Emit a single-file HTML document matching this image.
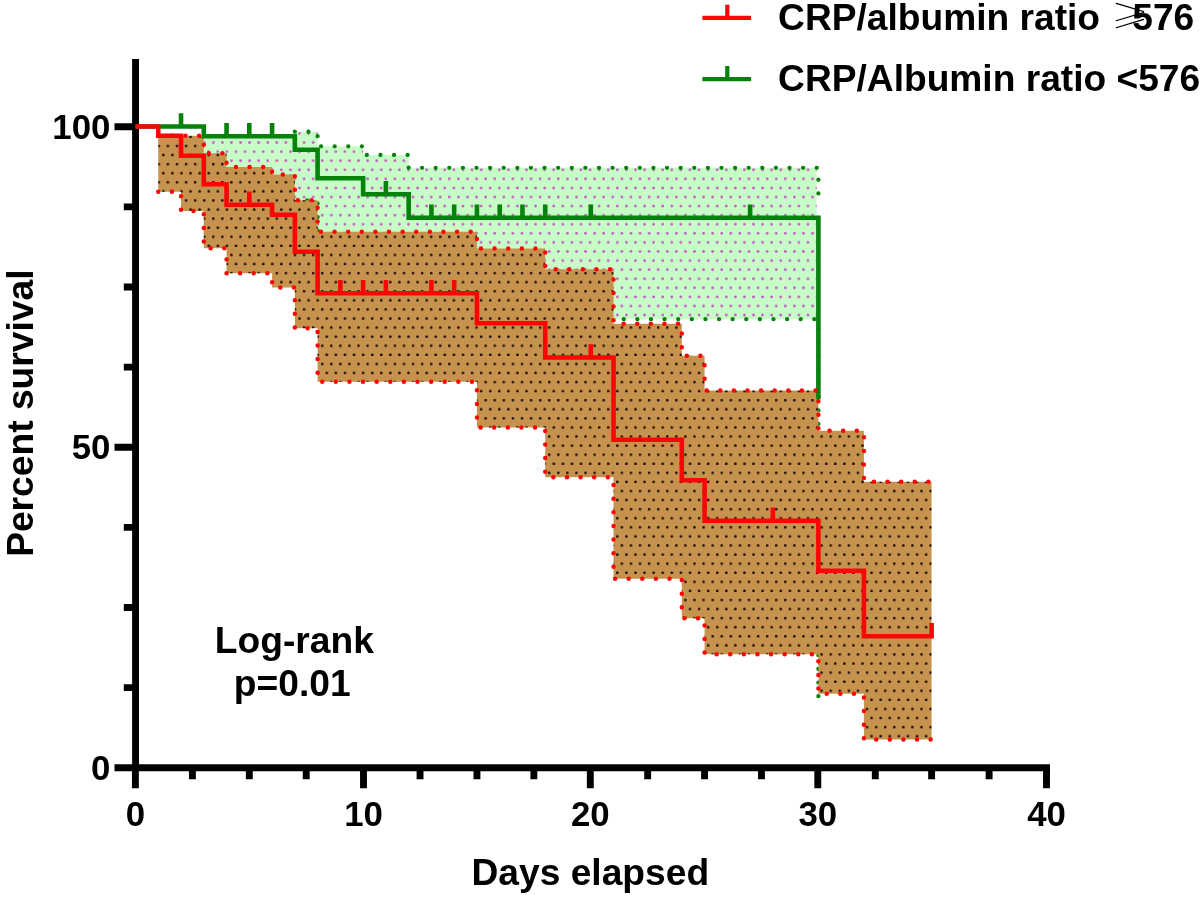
<!DOCTYPE html>
<html lang="en"><head><meta charset="utf-8"><title>Survival curve</title>
<style>
html,body{margin:0;padding:0;background:#fff;}
body{width:1200px;height:898px;overflow:hidden;}
svg{display:block;}
text{font-family:"Liberation Sans",Arial,Helvetica,sans-serif;font-weight:bold;fill:#000;}
.tick{font-size:34.8px;}
.title{font-size:37.2px;}
.leg{font-size:37.15px;}
.ge{font-family:"DejaVu Sans","Liberation Sans",sans-serif;font-weight:normal;font-size:41.3px;stroke:#fff;stroke-width:2.1px;}
</style></head><body>
<svg width="1200" height="898" viewBox="0 0 1200 898">
<defs>
<pattern id="pm" patternUnits="userSpaceOnUse" x="284.50" y="159.30" width="9.08" height="18.16"><circle cx="1.4" cy="1.4" r="1.4" fill="#c957c7"/><circle cx="5.9399999999999995" cy="10.48" r="1.4" fill="#c957c7"/></pattern>
<pattern id="pb" patternUnits="userSpaceOnUse" x="284.70" y="235.55" width="9.08" height="18.16"><rect x="0" y="0" width="2.4" height="2.5" rx="0.7" fill="#1c0a02"/><rect x="4.54" y="9.08" width="2.4" height="2.5" rx="0.7" fill="#1c0a02"/></pattern>
</defs>
<rect width="1200" height="898" fill="#fff"/>
<g stroke="#000" stroke-width="6.9" fill="none">
<path d="M135.55,59V771.20"/>
<path d="M114.5,767.75H1049.95"/>
<path d="M114.5,126.75H135.4 M114.5,447.25H135.4 M123.8,206.88H135.4 M123.8,287.00H135.4 M123.8,367.12H135.4 M123.8,527.38H135.4 M123.8,607.50H135.4 M123.8,687.62H135.4 M135.4,767.75V788.3 M363.5,767.75V788.3 M590.3,767.75V788.3 M817.8,767.75V788.3 M1046.5,767.75V788.3 M192.41,767.75V779.3 M249.31,767.75V779.3 M306.22,767.75V779.3 M420.04,767.75V779.3 M476.95,767.75V779.3 M533.85,767.75V779.3 M647.67,767.75V779.3 M704.58,767.75V779.3 M761.48,767.75V779.3 M875.30,767.75V779.3 M931.60,767.75V779.3 M989.11,767.75V779.3"/>
</g>
<path d="M203.79,136.30 L294.84,136.30 L294.84,131.70 L317.60,131.70 L317.60,146.30 L363.13,146.30 L363.13,155.00 L408.66,155.00 L408.66,167.80 L816.59,167.80 L816.59,319.20 L611.52,319.20 L611.52,300.00 L296.84,300.00 L296.84,240.00 L203.79,240.00Z" fill="#c7fec7"/>
<path d="M203.79,136.30 L294.84,136.30 L294.84,131.70 L317.60,131.70 L317.60,146.30 L363.13,146.30 L363.13,155.00 L408.66,155.00 L408.66,167.80 L816.59,167.80 L816.59,319.20 L611.52,319.20 L611.52,300.00 L296.84,300.00 L296.84,240.00 L203.79,240.00Z" fill="url(#pm)"/>
<path d="M294.84,200.30 L317.60,200.30 L317.60,240.00 L363.13,240.00 L363.13,262.00 L408.66,262.00 L408.66,319.20 L818.39,319.20 L818.39,697.00" stroke="#04820a" stroke-width="4.3" stroke-dasharray="0 13.61" stroke-dashoffset="1.3" stroke-linecap="round" stroke-linejoin="round" fill="none"/>
<path d="M294.84,131.70 L317.60,131.70 L317.60,146.30 L363.13,146.30 L363.13,155.00 L408.66,155.00 L408.66,167.80 L818.39,167.80 L818.39,200.00" stroke="#04820a" stroke-width="4.3" stroke-dasharray="0 13.61" stroke-linecap="round" stroke-linejoin="round" fill="none"/>
<path d="M158.26,135.80 L203.79,135.80 L203.79,153.30 L226.55,153.30 L226.55,167.00 L272.08,167.00 L272.08,174.50 L294.84,174.50 L294.84,200.30 L317.60,200.30 L317.60,231.70 L476.95,231.70 L476.95,248.60 L545.23,248.60 L545.23,269.20 L613.52,269.20 L613.52,323.70 L681.81,323.70 L681.81,355.80 L704.58,355.80 L704.58,390.40 L818.39,390.40 L818.39,430.80 L863.92,430.80 L863.92,481.70 L931.60,481.70 L931.60,739.60 L863.92,739.60 L863.92,693.80 L818.39,693.80 L818.39,654.20 L704.58,654.20 L704.58,618.30 L681.81,618.30 L681.81,578.80 L613.52,578.80 L613.52,477.20 L545.23,477.20 L545.23,427.50 L476.95,427.50 L476.95,381.70 L317.60,381.70 L317.60,328.30 L294.84,328.30 L294.84,287.50 L272.08,287.50 L272.08,273.30 L226.55,273.30 L226.55,248.30 L203.79,248.30 L203.79,211.00 L181.03,211.00 L181.03,191.80 L158.26,191.80Z" fill="#c6934f"/>
<path d="M158.26,135.80 L203.79,135.80 L203.79,153.30 L226.55,153.30 L226.55,167.00 L272.08,167.00 L272.08,174.50 L294.84,174.50 L294.84,200.30 L317.60,200.30 L317.60,231.70 L476.95,231.70 L476.95,248.60 L545.23,248.60 L545.23,269.20 L613.52,269.20 L613.52,323.70 L681.81,323.70 L681.81,355.80 L704.58,355.80 L704.58,390.40 L818.39,390.40 L818.39,430.80 L863.92,430.80 L863.92,481.70 L931.60,481.70 L931.60,739.60 L863.92,739.60 L863.92,693.80 L818.39,693.80 L818.39,654.20 L704.58,654.20 L704.58,618.30 L681.81,618.30 L681.81,578.80 L613.52,578.80 L613.52,477.20 L545.23,477.20 L545.23,427.50 L476.95,427.50 L476.95,381.70 L317.60,381.70 L317.60,328.30 L294.84,328.30 L294.84,287.50 L272.08,287.50 L272.08,273.30 L226.55,273.30 L226.55,248.30 L203.79,248.30 L203.79,211.00 L181.03,211.00 L181.03,191.80 L158.26,191.80Z" fill="url(#pb)"/>
<path d="M135.50,126.50 L203.79,126.50 L203.79,136.30 L294.84,136.30 L294.84,149.70 L317.60,149.70 L317.60,178.20 L363.13,178.20 L363.13,194.20 L408.66,194.20 L408.66,217.80 L818.39,217.80 L818.39,399.20" stroke="#04820a" stroke-width="4.6" fill="none" stroke-linejoin="miter"/>
<path d="M181.03,126.50v-13.2 M226.55,136.30v-13.2 M249.31,136.30v-13.2 M272.08,136.30v-13.2 M385.89,194.20v-13.2 M431.42,217.80v-13.2 M454.18,217.80v-13.2 M476.95,217.80v-13.2 M499.71,217.80v-13.2 M522.47,217.80v-13.2 M545.23,217.80v-13.2 M590.76,217.80v-13.2 M750.10,217.80v-13.2" stroke="#04820a" stroke-width="4.6" fill="none"/>
<path d="M158.26,135.80 L203.79,135.80 L203.79,153.30 L226.55,153.30 L226.55,167.00 L272.08,167.00 L272.08,174.50 L294.84,174.50 L294.84,200.30 L317.60,200.30 L317.60,231.70 L476.95,231.70 L476.95,248.60 L545.23,248.60 L545.23,269.20 L613.52,269.20 L613.52,323.70 L681.81,323.70 L681.81,355.80 L704.58,355.80 L704.58,390.40 L818.39,390.40 L818.39,430.80 L863.92,430.80 L863.92,481.70 L931.60,481.70" stroke="#fb0606" stroke-width="4.5" stroke-dasharray="0 13.61" stroke-linecap="round" stroke-linejoin="round" fill="none"/>
<path d="M158.26,191.80 L181.03,191.80 L181.03,211.00 L203.79,211.00 L203.79,248.30 L226.55,248.30 L226.55,273.30 L272.08,273.30 L272.08,287.50 L294.84,287.50 L294.84,328.30 L317.60,328.30 L317.60,381.70 L476.95,381.70 L476.95,427.50 L545.23,427.50 L545.23,477.20 L613.52,477.20 L613.52,578.80 L681.81,578.80 L681.81,618.30 L704.58,618.30 L704.58,654.20 L818.39,654.20 L818.39,693.80 L863.92,693.80 L863.92,739.60 L931.60,739.60" stroke="#fb0606" stroke-width="4.5" stroke-dasharray="0 13.61" stroke-linecap="round" stroke-linejoin="round" fill="none"/>
<path d="M135.50,126.50 L158.26,126.50 L158.26,135.80 L181.03,135.80 L181.03,155.80 L203.79,155.80 L203.79,184.20 L226.55,184.20 L226.55,204.70 L272.08,204.70 L272.08,214.70 L294.84,214.70 L294.84,251.70 L317.60,251.70 L317.60,293.30 L476.95,293.30 L476.95,323.30 L545.23,323.30 L545.23,357.50 L613.52,357.50 L613.52,439.70 L681.81,439.70 L681.81,480.30 L704.58,480.30 L704.58,520.80 L818.39,520.80 L818.39,570.80 L863.92,570.80 L863.92,636.20 L933.90,636.20" stroke="#fb0606" stroke-width="4.6" fill="none" stroke-linejoin="miter"/>
<path d="M249.31,204.70v-13.2 M340.37,293.30v-13.2 M363.13,293.30v-13.2 M385.89,293.30v-13.2 M431.42,293.30v-13.2 M454.18,293.30v-13.2 M590.76,357.50v-13.2 M772.86,520.80v-13.2 M931.60,636.20v-13.2" stroke="#fb0606" stroke-width="4.6" fill="none"/>
<text class="tick" x="135.40" y="825.6" text-anchor="middle">0</text>
<text class="tick" x="363.50" y="825.6" text-anchor="middle">10</text>
<text class="tick" x="590.30" y="825.6" text-anchor="middle">20</text>
<text class="tick" x="817.80" y="825.6" text-anchor="middle">30</text>
<text class="tick" x="1046.50" y="825.6" text-anchor="middle">40</text>
<text class="tick" x="110.4" y="779.95" text-anchor="end">0</text>
<text class="tick" x="110.4" y="459.45" text-anchor="end">50</text>
<text class="tick" x="110.4" y="138.95" text-anchor="end">100</text>
<text class="title" x="590.3" y="884.5" text-anchor="middle">Days elapsed</text>
<text class="title" transform="translate(33.1,413.2) rotate(-90)" text-anchor="middle">Percent survival</text>
<text class="title" x="294.3" y="652.5" text-anchor="middle">Log-rank</text>
<text class="title" x="292.2" y="695.8" text-anchor="middle">p=0.01</text>
<path d="M702.4,17.8H751.1M727.3,17.8V4.8" stroke="#fb0606" stroke-width="4.2" fill="none"/>
<path d="M702.4,79.1H751.1M727.3,79.1V66.1" stroke="#04820a" stroke-width="4.2" fill="none"/>
<text class="ge" transform="translate(1109.5,24.8) scale(1.19,1)">⩾</text>
<text class="leg" x="778.1" y="29.5">CRP/albumin ratio <tspan x="1132.3">576</tspan></text>
<text class="leg" x="778.1" y="90.9">CRP/Albumin ratio &lt;576</text>
</svg>
</body></html>
